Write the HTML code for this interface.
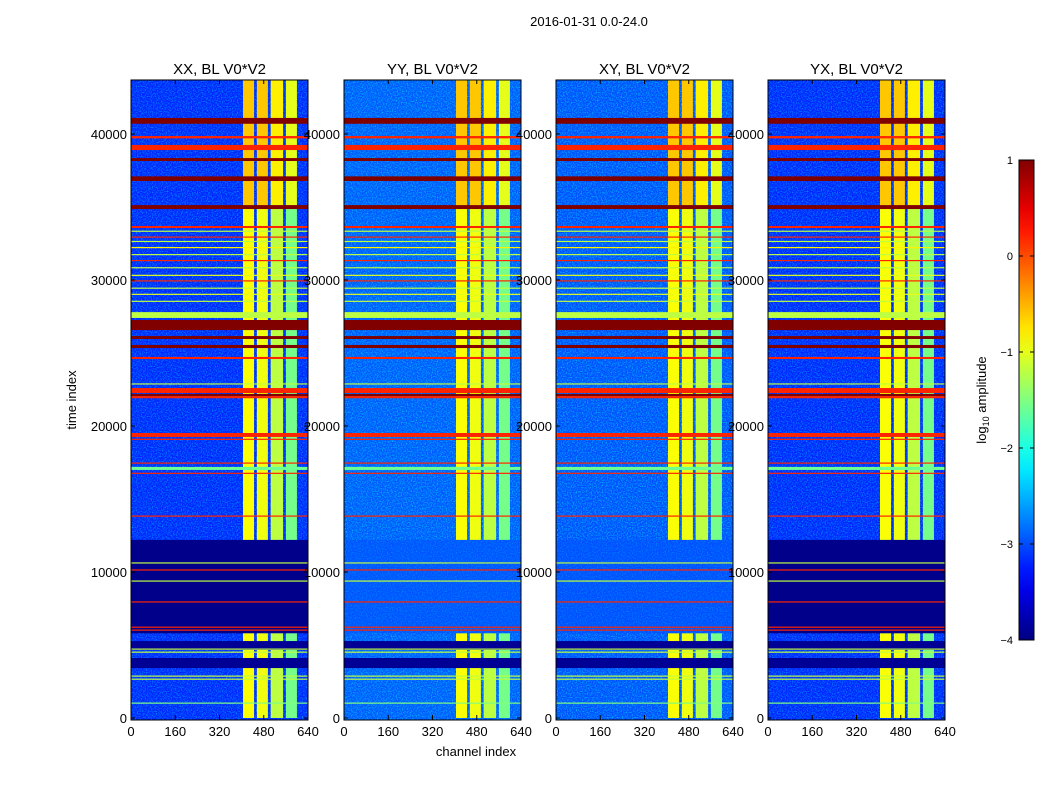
<!DOCTYPE html>
<html><head><meta charset="utf-8"><style>
body{margin:0;background:#fff;font-family:"Liberation Sans",sans-serif;}
svg text{font-family:"Liberation Sans",sans-serif;}
</style></head><body>
<svg id="chart" width="1050" height="800" xmlns="http://www.w3.org/2000/svg">
<defs>
<filter id="noise" x="0" y="0" width="100%" height="100%">
<feTurbulence type="fractalNoise" baseFrequency="0.8" numOctaves="1" seed="3"/>
<feColorMatrix type="matrix" values="0 0 0 0 0  0 0 0 0 0.75  0 0 0 0 1  0 0 0 2.2 -0.95"/>
</filter>
<filter id="darknoise" x="0" y="0" width="100%" height="100%">
<feTurbulence type="fractalNoise" baseFrequency="0.7" numOctaves="1" seed="9"/>
<feColorMatrix type="matrix" values="0 0 0 0 0  0 0 0 0 0  0 0 0 0 0.6  0 0 0 2.2 -0.9"/>
</filter>
<linearGradient id="jetgrad" x1="0" y1="1" x2="0" y2="0"></linearGradient>
</defs>
<text x="589" y="26" font-size="13" text-anchor="middle">2016-01-31 0.0-24.0</text>
<g id="panels"></g>
<text x="76" y="400" font-size="13" text-anchor="middle" transform="rotate(-90 76 400)">time index</text>
<text x="476" y="756" font-size="13" text-anchor="middle">channel index</text>
<g id="cbar"></g>
</svg>
<script>
const panelTitles = ["XX, BL V0*V2","YY, BL V0*V2","XY, BL V0*V2","YX, BL V0*V2"];
const panelBase = [-3.2,-2.95,-3.0,-3.2];
const panelDeadFill = [-3.95,-3.0,-3.0,-3.95];
const xTicks = [0,160,320,480,640];
const yTicks = [0,10000,20000,30000,40000];
const cbTicks = [1,0,-1,-2,-3,-4];
const cbLabels = ["1","0","\u22121","\u22122","\u22123","\u22124"];
const colBands = [[405,445,-0.9],[455,495,-0.95],[505,550,-1.2],[560,600,-1.55]];
const colTopBands = [[405,445,-0.6],[455,495,-0.6],[505,550,-0.8],[560,600,-1.0]];
const deadRange = [5800,12200];
const rowBands = [
[40700,41100,1],[39700,39860,0.2],[38900,39250,0.2],[38150,38350,1],[36780,37100,1],[34860,35130,1],
[33560,33700,0.2],[33300,33380,-1.2],[32900,32980,0.2],[32600,32680,-1.2],[32200,32260,-0.8],[31700,31780,-1.2],
[31300,31370,0.2],[30800,30880,-1.2],[30300,30360,-1.0],[29900,29980,0.2],[29400,29480,-1.2],[29000,29060,-1.0],[28500,28580,-1.2],
[27400,27800,-1.2],[26570,27260,1],[25960,26160,1],[25340,25550,1],[24590,24730,0.2],[22850,22920,-1.2],
[22260,22600,0.2],[22050,22200,1],[21900,22050,0.2],[19250,19520,0.2],[19060,19130,0.2],[17430,17500,0.2],
[16990,17200,-1.6],[16740,16800,0.2],[13800,13870,0.2],
[10580,10660,-1.2],[10100,10180,0.2],[9340,9420,-1.2],[7910,7990,0.2],[6190,6260,0.2],[5990,6060,0.2],
[4660,5270,-3.9],[4700,4760,-1.2],[4490,4550,-1.2],[3420,4110,-3.9],[2850,2910,-1.2],[2640,2700,-1.2],[1000,1060,-1.5]
];
const panelLefts = [131,344,556,768];
const pw = 177, y0 = 718, tScale = 0.0146, tMax = 43700, cMax = 640;
function jet(v){let x=(v+4)/5;x=Math.max(0,Math.min(1,x));
 const c=f=>Math.round(255*Math.max(0,Math.min(1,f)));
 return `rgb(${c(1.5-Math.abs(4*x-3))},${c(1.5-Math.abs(4*x-2))},${c(1.5-Math.abs(4*x-1))})`;}
const NS="http://www.w3.org/2000/svg";
function mk(tag,attrs,parent){const e=document.createElementNS(NS,tag);for(const k in attrs)e.setAttribute(k,attrs[k]);parent.appendChild(e);return e;}
const yT=t=>y0-t*tScale;
const panels=document.getElementById('panels');
panelTitles.forEach((title,p)=>{
 const L=panelLefts[p]; const xC=c=>L+c/cMax*pw;
 const g=mk('g',{},panels);
 
 
 const top=yT(tMax);
 const bg=mk('rect',{x:L,y:top,width:pw,height:y0-top+2,fill:jet(panelBase[p])},g);
 
 
 const nz=mk('rect',{x:L,y:top,width:pw,height:y0-top+2,filter:'url(#noise)',opacity:(p==1||p==2)?0.9:0.7},g);
 
 
 const dead=mk('rect',{x:L,y:yT(deadRange[1]),width:pw,height:yT(deadRange[0])-yT(deadRange[1]),fill:jet(panelDeadFill[p]),opacity:(p==1||p==2)?0.5:1},g);
 
 
 const segs=[[0,deadRange[0]],[deadRange[1],35000]];
 colBands.forEach(b=>{segs.forEach(s=>{
  const r=mk('rect',{x:xC(b[0]),y:yT(s[1]),width:xC(b[1])-xC(b[0]),height:yT(s[0])-yT(s[1]),fill:jet(b[2])},g);
  
  });});
 colTopBands.forEach(b=>{
  const r=mk('rect',{x:xC(b[0]),y:top,width:xC(b[1])-xC(b[0]),height:yT(35000)-top,fill:jet(b[2])},g);
  
  });
 rowBands.forEach(b=>{
  const h=Math.max(1.2,yT(b[0])-yT(b[1]));
  const r=mk('rect',{x:L,y:yT(b[1]),width:pw,height:h,fill:jet(b[2])},g);
  
  });
 const fr=mk('rect',{x:L,y:top,width:pw,height:y0-top+2,fill:'none',stroke:'#000','stroke-width':1},g);
 
 
 const tt=mk('text',{x:L+pw/2,y:74,'font-size':15,'text-anchor':'middle'},g);tt.textContent=title;
 
 
 xTicks.forEach(v=>{const x=xC(v);
  mk('line',{x1:x,x2:x,y1:y0+2,y2:y0-3,stroke:'#000'},g);
  mk('line',{x1:x,x2:x,y1:top,y2:top+4,stroke:'#000'},g);
  const t=mk('text',{x:x,y:736,'font-size':13,'text-anchor':'middle'},g);t.textContent=v;
  
  });
 yTicks.forEach(v=>{const y=yT(v);
  mk('line',{x1:L,x2:L+4,y1:y,y2:y,stroke:'#000'},g);
  mk('line',{x1:L+pw-4,x2:L+pw,y1:y,y2:y,stroke:'#000'},g);
  const t=mk('text',{x:L-4,y:y+5,'font-size':13,'text-anchor':'end'},g);t.textContent=v;
  
  });
});
const grad=document.getElementById('jetgrad');
for(let i=0;i<=20;i++){mk('stop',{offset:i/20,'stop-color':jet(-4+i*0.25)},grad);}
const cb=document.getElementById('cbar');
const cbTop=160,cbBot=640,cbX=1019,cbW=15;
const cy=v=>cbBot-(v+4)/5*(cbBot-cbTop);
mk('rect',{x:cbX,y:cbTop,width:cbW,height:cbBot-cbTop,fill:'url(#jetgrad)',stroke:'#000'},cb);
cbTicks.forEach((v,i)=>{const y=cy(v);
 mk('line',{x1:cbX,x2:cbX+4,y1:y,y2:y,stroke:'#000'},cb);
 mk('line',{x1:cbX+cbW-4,x2:cbX+cbW,y1:y,y2:y,stroke:'#000'},cb);
 const t=mk('text',{x:cbX-6,y:y+4,'font-size':11,'text-anchor':'end'},cb);t.textContent=cbLabels[i];
 
 });
const cl=mk('text',{x:986,y:400,'font-size':13,'text-anchor':'middle',transform:'rotate(-90 986 400)'},cb);
cl.innerHTML='log<tspan font-size="9" dy="3">10</tspan><tspan dy="-3"> amplitude</tspan>';


</script>
</body></html>
